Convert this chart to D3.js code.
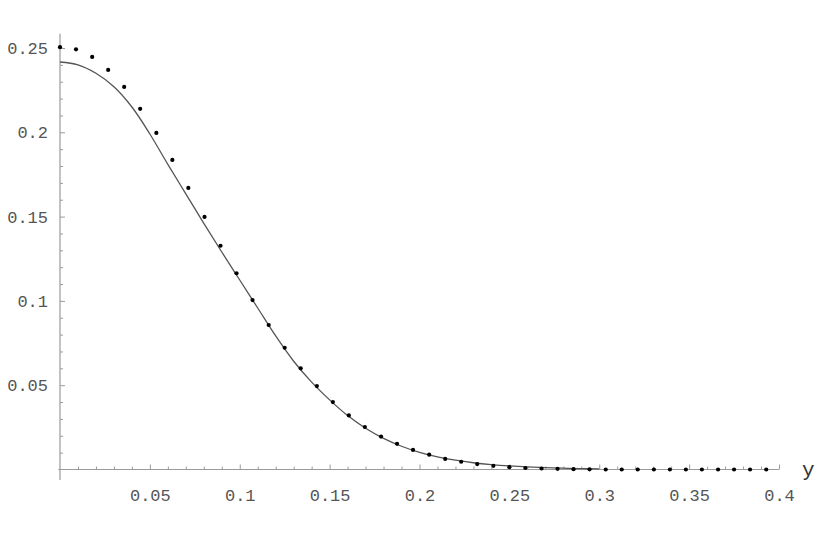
<!DOCTYPE html>
<html>
<head>
<meta charset="utf-8">
<script src="https://cdn.jsdelivr.net/npm/d3@7"></script>
<style>
  body { margin: 0; background: #fff; }
  .tick text { font-family: "Liberation Mono", "DejaVu Sans Mono", monospace; font-size: 17px; fill: #555; }
</style>
</head>
<body>
<div id="container"></div>
<script>
// tick labels
let xTicks = [0.05, 0.1, 0.15, 0.2, 0.25, 0.3, 0.35, 0.4];
let xTickLabels = ["0.05", "0.1", "0.15", "0.2", "0.25", "0.3", "0.35", "0.4"];
let yTicks = [0.05, 0.1, 0.15, 0.2, 0.25];
let yTickLabels = ["0.05", "0.1", "0.15", "0.2", "0.25"];
let xMinor = [0.01, 0.02, 0.03, 0.04, 0.06, 0.07, 0.08, 0.09, 0.11, 0.12, 0.13, 0.14,
  0.16, 0.17, 0.18, 0.19, 0.21, 0.22, 0.23, 0.24, 0.26, 0.27, 0.28, 0.29,
  0.31, 0.32, 0.33, 0.34, 0.36, 0.37, 0.38, 0.39];
let yMinor = [0.01, 0.02, 0.03, 0.04, 0.06, 0.07, 0.08, 0.09, 0.11, 0.12, 0.13, 0.14,
  0.16, 0.17, 0.18, 0.19, 0.21, 0.22, 0.23, 0.24];

// solid curve
let curveX = [0, 0.01, 0.02, 0.03, 0.04, 0.05, 0.06, 0.07, 0.08, 0.09, 0.1,
  0.11, 0.12, 0.13, 0.14, 0.15, 0.16, 0.17, 0.18, 0.19, 0.2,
  0.21, 0.22, 0.23, 0.24, 0.25, 0.26, 0.27, 0.28, 0.29, 0.3];
let curveY = [0.2417, 0.2400, 0.2350, 0.2270, 0.2150, 0.1990, 0.1810, 0.1635, 0.1460, 0.1290, 0.1124,
  0.0958, 0.0792, 0.0642, 0.0518, 0.0413, 0.0320, 0.0245, 0.0185, 0.0138, 0.0102,
  0.0075, 0.0055, 0.0040, 0.0029, 0.0021, 0.0015, 0.0011, 0.0008, 0.0005, 0.0004];

// dotted series
let dotX = [0, 0.0089, 0.0179, 0.0268, 0.0357, 0.0446, 0.0536, 0.0625, 0.0714, 0.0804,
  0.0893, 0.0982, 0.1071, 0.1161, 0.125, 0.1339, 0.1429, 0.1518, 0.1607, 0.1696,
  0.1786, 0.1875, 0.1964, 0.2054, 0.2143, 0.2232, 0.2321, 0.2411, 0.25, 0.2589,
  0.2679, 0.2768, 0.2857, 0.2946, 0.3036, 0.3125, 0.3214, 0.3304, 0.3393, 0.3482,
  0.3571, 0.3661, 0.375, 0.3839, 0.3929];
let dotY = [0.2505, 0.2492, 0.2447, 0.2370, 0.2269, 0.2139, 0.1996, 0.1836, 0.1670, 0.1498,
  0.1327, 0.1164, 0.1005, 0.0857, 0.0722, 0.0600, 0.0495, 0.0400, 0.0321, 0.0252,
  0.0195, 0.0152, 0.0116, 0.0088, 0.0063, 0.0046, 0.0032, 0.0022, 0.0014, 0.0009,
  0.0006, 0.0004, 0.0002, 0.0001, 0, 0, 0, 0, 0, 0,
  0, 0, 0, 0, 0];

let svg = d3.select("#container")
  .append("svg")
    .attr("width", 817)
    .attr("height", 537)
;

let x = d3.scaleLinear().domain([0, 0.4]).range([60, 779]);
let y = d3.scaleLinear().domain([0, 0.25]).range([469.5, 48]);

let axisColor = "#9a9a9a";

// axis lines
svg.append("line")
  .attr("x1", x(-0.001)).attr("x2", x(0.4))
  .attr("y1", y(0)).attr("y2", y(0))
  .attr("stroke", axisColor).attr("stroke-width", 1.2);
svg.append("line")
  .attr("x1", x(0)).attr("x2", x(0))
  .attr("y1", y(-0.0063)).attr("y2", y(0.2585))
  .attr("stroke", axisColor).attr("stroke-width", 1.2);

// x axis ticks (inside, pointing up)
let xMajor = d3.axisBottom(x)
  .tickValues(xTicks)
  .tickSize(-5)
  .tickPadding(19)
  .tickFormat((d, i) => xTickLabels[i]);
let gx = svg.append("g").attr("transform", "translate(0," + y(0) + ")").call(xMajor);
gx.select(".domain").remove();

let gxm = svg.append("g").attr("transform", "translate(0," + y(0) + ")")
  .call(d3.axisBottom(x).tickValues(xMinor).tickSize(-3).tickFormat(""));
gxm.select(".domain").remove();

// y axis ticks (inside, pointing right)
let yMajor = d3.axisLeft(y)
  .tickValues(yTicks)
  .tickSize(-5)
  .tickPadding(12)
  .tickFormat((d, i) => yTickLabels[i]);
let gy = svg.append("g").attr("transform", "translate(" + x(0) + ",0)").call(yMajor);
gy.select(".domain").remove();

let gym = svg.append("g").attr("transform", "translate(" + x(0) + ",0)")
  .call(d3.axisLeft(y).tickValues(yMinor).tickSize(-3).tickFormat(""));
gym.select(".domain").remove();

svg.selectAll(".tick line").attr("stroke", axisColor);

// axis name
svg.append("text")
  .attr("x", 802)
  .attr("y", 476)
  .attr("font-family", "Liberation Mono, monospace")
  .attr("font-size", 21)
  .attr("fill", "#333")
  .text("y");

// curve
let curveData = curveX.map((d, i) => ({x: d, y: curveY[i]}));
let line = d3.line()
  .x(d => x(d.x))
  .y(d => y(d.y))
  .curve(d3.curveCatmullRom);
svg.append("path")
  .datum(curveData)
  .attr("d", line)
  .attr("fill", "none")
  .attr("stroke", "#555")
  .attr("stroke-width", 1.3);

// dots
let dotData = dotX.map((d, i) => ({x: d, y: dotY[i]}));
svg.selectAll(".dot").data(dotData).enter()
  .append("circle")
    .attr("class", "dot")
    .attr("cx", d => x(d.x))
    .attr("cy", d => y(d.y))
    .attr("r", 2.1)
    .attr("fill", "#000")
;
</script>
</body>
</html>
